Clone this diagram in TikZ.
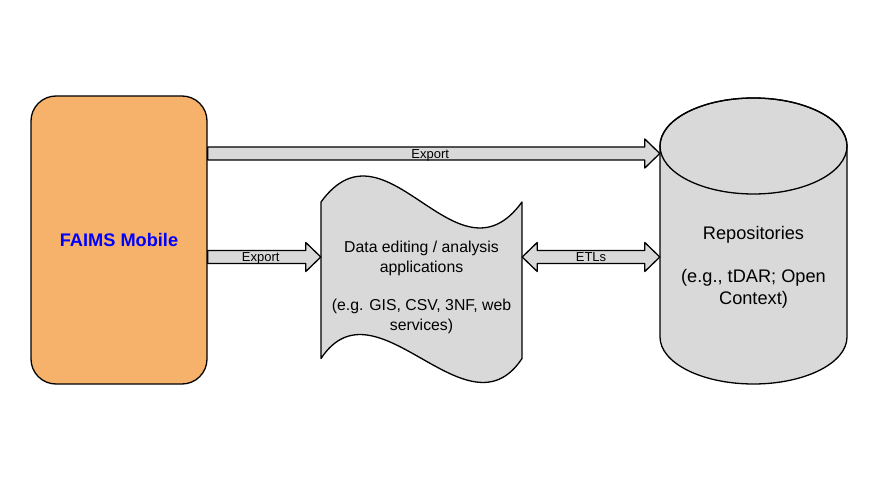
\documentclass[tikz,border=0pt]{standalone}
\usepackage{fontspec}
\setmainfont{Liberation Sans}
\usetikzlibrary{calc}
\definecolor{faimsfill}{HTML}{F6B26B}
\definecolor{boxgray}{HTML}{D9D9D9}
\newcommand\fatRight[2]{%
  \draw[fat] let \p1=(#1), \p2=(#2) in
    (\x1,\y1+6.5pt) -- (\x2-15pt,\y1+6.5pt) -- (\x2-15pt,\y1+14.5pt) -- (\x2,\y1)
    -- (\x2-15pt,\y1-14.5pt) -- (\x2-15pt,\y1-6.5pt) -- (\x1,\y1-6.5pt) -- cycle;}
\newcommand\fatBoth[2]{%
  \draw[fat] let \p1=(#1), \p2=(#2) in
    (\x1,\y1) -- (\x1+15pt,\y1+14.5pt) -- (\x1+15pt,\y1+6.5pt) -- (\x2-15pt,\y1+6.5pt)
    -- (\x2-15pt,\y1+14.5pt) -- (\x2,\y1) -- (\x2-15pt,\y1-14.5pt) -- (\x2-15pt,\y1-6.5pt)
    -- (\x1+15pt,\y1-6.5pt) -- (\x1+15pt,\y1-14.5pt) -- cycle;}
\begin{document}
\begin{tikzpicture}[x=1pt,y=-1pt,
  outline/.style={draw=black, line width=1.3pt, line join=round},
  fat/.style={outline, fill=boxgray},
  arrowlabel/.style={font=\fontsize{13}{15}\selectfont, inner sep=0pt, anchor=base},
  phantombox/.style={draw=none, fill=none, inner sep=0pt, rectangle}]
\useasboundingbox[fill=white] (0,0) rectangle (870,478);

% row coordinates
\coordinate (r1) at (0,153.5);
\coordinate (r2) at (0,257);

% FAIMS Mobile
\node[outline, fill=faimsfill, rounded corners=25pt, minimum width=176pt,
      minimum height=288pt, inner sep=0pt, text=blue,
      font=\fontsize{18.2}{22}\selectfont\bfseries] (faims) at (119,240) {FAIMS Mobile};

% Data editing document shape
\node[phantombox, minimum width=201pt, minimum height=156pt] (docshape) at (421.5,280) {};
\draw[outline, fill=boxgray]
  (321,202) .. controls (386.5,112) and (456.5,292) .. (522,202)
  -- (522,358.5) .. controls (467,441.5) and (376,275.5) .. (321,358.5) -- cycle;
\node[font=\fontsize{15.8}{19.3}\selectfont, align=center] (doctext) at (421.5,287.5)
  {Data editing / analysis\\applications\\[19.3pt](e.g. GIS, CSV, 3NF, web\\services)};

% Repositories cylinder
\node[phantombox, minimum width=187pt, minimum height=286pt] (repo) at (753.5,241) {};
\draw[outline, fill=boxgray] (660,146) -- (660,337)
  arc[start angle=180, end angle=360, x radius=93.5pt, y radius=47pt] -- (847,146)
  arc[start angle=0, end angle=180, x radius=93.5pt, y radius=48pt] -- cycle;
\draw[outline] (753.5,146) ellipse [x radius=93.5pt, y radius=48pt];
\node[font=\fontsize{18.2}{21.5}\selectfont, align=center] (repotext) at (753.5,267.5)
  {Repositories\\[21.5pt](e.g., tDAR; Open\\Context)};

% Arrows
\fatRight{faims.east |- r1}{repo.west |- r1}
\node[arrowlabel, xshift=-3.5pt, yshift=-4.6pt] (lab1) at ($(faims.east |- r1)!0.5!(repo.west |- r1)$) {Export};
\fatRight{faims.east |- r2}{docshape.west |- r2}
\node[arrowlabel, xshift=-3.5pt, yshift=-4.6pt] (lab2) at ($(faims.east |- r2)!0.5!(docshape.west |- r2)$) {Export};
\fatBoth{docshape.east |- r2}{repo.west |- r2}
\node[arrowlabel, yshift=-4.6pt] (lab3) at ($(docshape.east |- r2)!0.5!(repo.west |- r2)$) {ETLs};
\end{tikzpicture}
\end{document}
